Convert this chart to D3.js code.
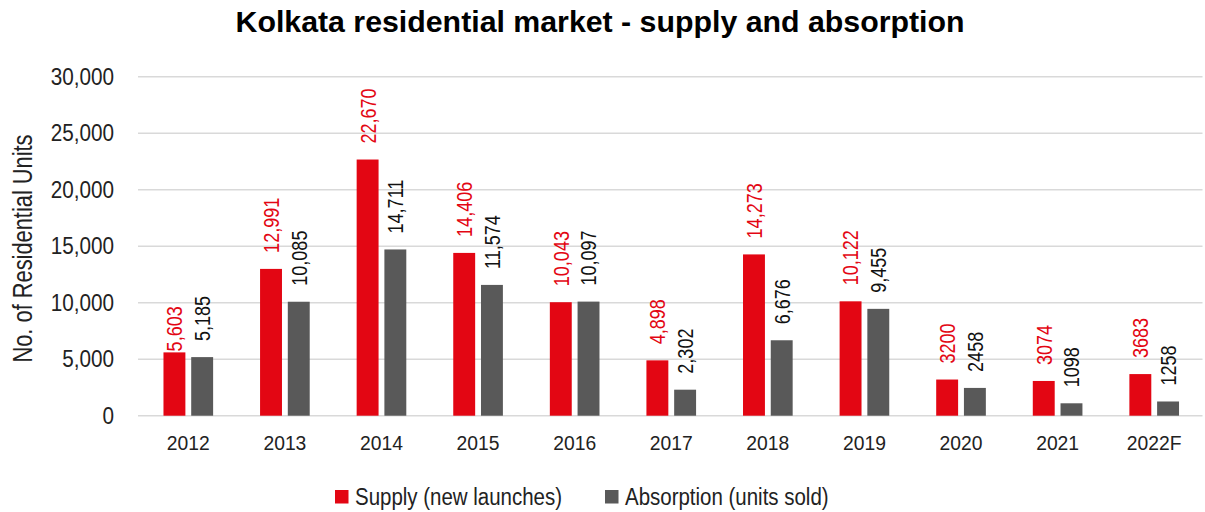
<!DOCTYPE html>
<html>
<head>
<meta charset="utf-8">
<script src="https://cdn.jsdelivr.net/npm/d3@7"></script>
<style>
  html, body { margin: 0; padding: 0; background: #fff; }
  svg { display: block; }
  text { font-family: "Liberation Sans", Arial, sans-serif; }
</style>
</head>
<body>
<svg id="chart" width="1205" height="512"></svg>
<script>
// Kolkata residential market: new launches vs units sold, per year
const categories = ["2012", "2013", "2014", "2015", "2016", "2017", "2018", "2019", "2020", "2021", "2022F"];
const supply     = [5603, 12991, 22670, 14406, 10043, 4898, 14273, 10122, 3200, 3074, 3683];
const absorption = [5185, 10085, 14711, 11574, 10097, 2302, 6676, 9455, 2458, 1098, 1258];
// labels as printed (later years are shown without thousands separators)
const supplyLabels     = ["5,603", "12,991", "22,670", "14,406", "10,043", "4,898", "14,273", "10,122", "3200", "3074", "3683"];
const absorptionLabels = ["5,185", "10,085", "14,711", "11,574", "10,097", "2,302", "6,676", "9,455", "2458", "1098", "1258"];
const yTicks = [0, 5000, 10000, 15000, 20000, 25000, 30000];
const seriesNames = ["Supply (new launches)", "Absorption (units sold)"];

const colors = { supply: "#e30613", absorption: "#595959" };

const svg = d3.select("#chart");
const plot = { left: 140, right: 1202.5, top: 76.7, bottom: 415.7 };

const y = d3.scaleLinear().domain([0, 30000]).range([plot.bottom, plot.top]);
const x0 = d3.scaleBand().domain(categories).range([plot.left, plot.right]).padding(0);
const bw = x0.bandwidth();
const x1 = d3.scaleBand().domain(["supply", "absorption"])
  .range([bw * 0.243, bw * 0.757]).paddingInner(0.21).paddingOuter(0);

// gridlines
svg.append("g")
  .selectAll("line")
  .data(yTicks)
  .join("line")
  .attr("x1", plot.left - 2)
  .attr("x2", plot.right)
  .attr("y1", d => y(d))
  .attr("y2", d => y(d))
  .attr("stroke", "#d9d9d9")
  .attr("stroke-width", 1.5);

// y axis labels (condensed face)
const yAxis = d3.axisLeft(y).tickValues(yTicks).tickFormat(d3.format(",")).tickSize(0).tickPadding(0);
const yg = svg.append("g").attr("transform", `translate(114,0)`).call(yAxis);
yg.select(".domain").remove();
yg.selectAll("text")
  .attr("font-size", 23).attr("fill", "#222").attr("font-family", null)
  .attr("transform", "scale(0.9,1)");

// x axis labels, centred on their band
const xAxis = d3.axisBottom(x0).tickSize(0).tickPadding(0);
const xg = svg.append("g").attr("transform", `translate(0,435)`).call(xAxis);
xg.select(".domain").remove();
xg.selectAll("text")
  .attr("font-size", 21).attr("fill", "#222").attr("font-family", null)
  .attr("x", 0).attr("y", 0).attr("dy", "0.71em")
  .attr("transform", "scale(0.92,1)");

// bars + labels
const rows = categories.map((c, i) => ({
  cat: c,
  values: [
    { key: "supply", value: supply[i], label: supplyLabels[i] },
    { key: "absorption", value: absorption[i], label: absorptionLabels[i] }
  ]
}));

const groups = svg.append("g").selectAll("g")
  .data(rows)
  .join("g")
  .attr("transform", d => `translate(${x0(d.cat)},0)`);

groups.selectAll("rect")
  .data(d => d.values)
  .join("rect")
  .attr("x", d => x1(d.key))
  .attr("width", x1.bandwidth())
  .attr("y", d => y(d.value))
  .attr("height", d => y(0) - y(d.value))
  .attr("fill", d => colors[d.key]);

// the 2012 supply label sits right on its bar; all others float a little above
const labelGap = (cat, key) => (cat === "2012" && key === "supply") ? 1 : 16;

groups.each(function(g) {
  d3.select(this).selectAll("text.val")
    .data(g.values)
    .join("text")
    .attr("class", "val")
    .attr("transform", d => `translate(${x1(d.key) + x1.bandwidth() / 2},${y(d.value) - labelGap(g.cat, d.key)}) rotate(-90) scale(0.82,1)`)
    .attr("dy", "0.36em")
    .attr("font-size", 22)
    .attr("fill", d => d.key === "supply" ? "#e30613" : "#111")
    .text(d => d.label);
});

// title
svg.append("text")
  .attr("x", 600)
  .attr("y", 32)
  .attr("text-anchor", "middle")
  .attr("font-size", 30.3)
  .attr("font-weight", "bold")
  .attr("fill", "#000")
  .text("Kolkata residential market - supply and absorption");

// y axis title
svg.append("text")
  .attr("transform", `translate(32,248.5) rotate(-90) scale(0.78,1)`)
  .attr("text-anchor", "middle")
  .attr("font-size", 28)
  .attr("fill", "#222")
  .text("No. of Residential Units");

// legend
const legendItems = [
  { name: seriesNames[0], color: colors.supply, x: 335 },
  { name: seriesNames[1], color: colors.absorption, x: 605 }
];
const lg = svg.append("g").selectAll("g").data(legendItems).join("g")
  .attr("transform", d => `translate(${d.x},490)`);
lg.append("rect").attr("width", 13.5).attr("height", 13.5).attr("fill", d => d.color);
lg.append("text")
  .attr("transform", "translate(20,14.7) scale(0.89,1)")
  .attr("font-size", 23)
  .attr("fill", "#222")
  .text(d => d.name);
</script>
</body>
</html>
